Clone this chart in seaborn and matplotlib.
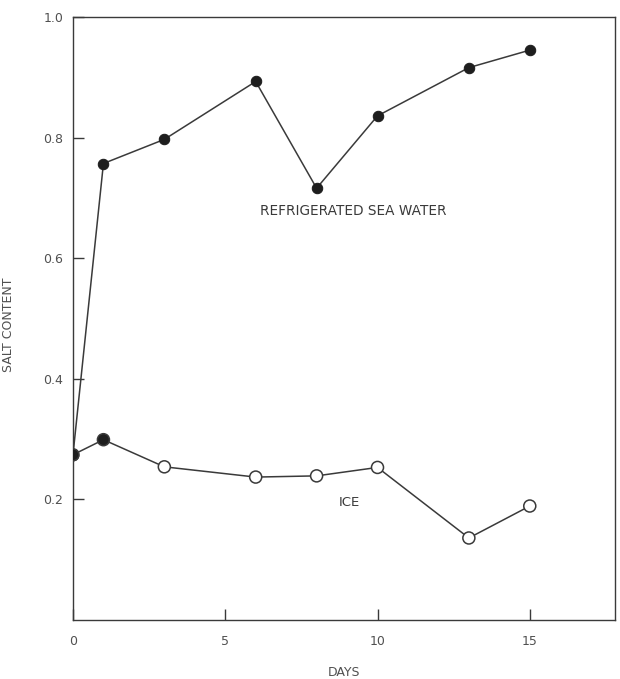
import numpy as np
import pandas as pd
import matplotlib
matplotlib.use("Agg")
import matplotlib.pyplot as plt
import seaborn as sns

# valores
days = [0, 1, 3, 6, 8, 10, 13, 15]
sea_water = [0.274, 0.757, 0.797, 0.893, 0.716, 0.836, 0.916, 0.945]
ice = [0.274, 0.299, 0.254, 0.237, 0.239, 0.253, 0.136, 0.189]
x_ticks = [0, 5, 10, 15]
y_ticks = [0.2, 0.4, 0.6, 0.8, 1.0]
y_tick_labels = ["0.2", "0.4", "0.6", "0.8", "1.0"]

df = pd.DataFrame({"Days": days, "Sea": sea_water, "Ice": ice})

sns.set_style("ticks")
plt.rcParams["font.family"] = ["DejaVu Sans"]

ink = "#3a3a3a"
text_col = "#505050"

fig = plt.figure(figsize=(6.2, 6.79), dpi=100)
ax = fig.add_axes([0.1177, 0.0869, 0.8743, 0.8881])

# Água do mar refrigerada - pontos cheios
sns.lineplot(ax=ax, data=df, x="Days", y="Sea", color=ink, linewidth=1.1,
             marker="o", markersize=7.5, markerfacecolor="#1e1e1e",
             markeredgecolor="#1e1e1e")

# Gelo - linha e depois marcadores (os dois primeiros são cheios)
sns.lineplot(ax=ax, data=df, x="Days", y="Ice", color=ink, linewidth=1.1)
fills = ["#1e1e1e" if i < 2 else "white" for i in range(len(days))]
sns.scatterplot(ax=ax, data=df, x="Days", y="Ice", s=75, c=fills,
                edgecolor=ink, linewidth=1.1, zorder=5)

ax.set_xlim(0, 17.8)
ax.set_ylim(0, 1.0)
ax.set_xticks(x_ticks)
ax.set_yticks(y_ticks)
ax.set_yticklabels(y_tick_labels)
ax.tick_params(axis="x", direction="in", length=8, width=1.0, color=ink,
               labelsize=9, labelcolor=text_col, pad=11)
ax.tick_params(axis="y", direction="in", length=8, width=1.0, color=ink,
               labelsize=9, labelcolor=text_col, pad=7)
for s in ax.spines.values():
    s.set_color(ink)
    s.set_linewidth(1.0)

ax.set_xlabel("DAYS", fontsize=9, color=text_col)
ax.xaxis.set_label_coords(0.5, -0.077)
ax.set_ylabel("SALT CONTENT", fontsize=9, color=text_col)
ax.yaxis.set_label_coords(-0.107, 0.489)

ax.text(9.2, 0.679, "REFRIGERATED SEA WATER", fontsize=9.8, color=ink,
        ha="center", va="center")
ax.text(9.08, 0.195, "ICE", fontsize=9.5, color=ink, ha="center", va="center")

plt.savefig("out.png", dpi=100)
